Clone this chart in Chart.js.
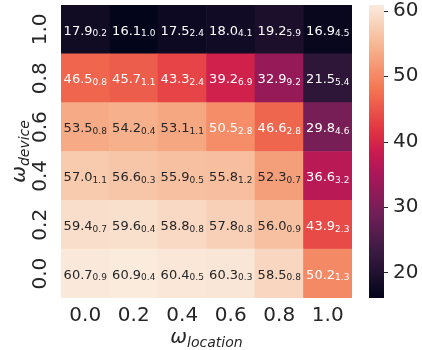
<!DOCTYPE html>
<html><head><meta charset="utf-8">
<script src="https://cdn.jsdelivr.net/npm/chart.js@4.4.1/dist/chart.umd.min.js"></script>
<style>html,body{margin:0;padding:0;background:#fff;}</style>
</head><body>
<canvas id="c" width="422" height="350"></canvas>
<script>
// ---- data ----
const xLabels = ['0.0', '0.2', '0.4', '0.6', '0.8', '1.0'];   // ω_location
const yLabels = ['0.0', '0.2', '0.4', '0.6', '0.8', '1.0'];   // ω_device (bottom -> top)
// rows from ω_device = 0.0 (bottom) to 1.0 (top)
const means = [
  [60.7, 60.9, 60.4, 60.3, 58.5, 50.2],
  [59.4, 59.6, 58.8, 57.8, 56.0, 43.9],
  [57.0, 56.6, 55.9, 55.8, 52.3, 36.6],
  [53.5, 54.2, 53.1, 50.5, 46.6, 29.8],
  [46.5, 45.7, 43.3, 39.2, 32.9, 21.5],
  [17.9, 16.1, 17.5, 18.0, 19.2, 16.9]
];
const stds = [
  [0.9, 0.4, 0.5, 0.3, 0.8, 1.3],
  [0.7, 0.4, 0.8, 0.8, 0.9, 2.3],
  [1.1, 0.3, 0.5, 1.2, 0.7, 3.2],
  [0.8, 0.4, 1.1, 2.8, 2.8, 4.6],
  [0.8, 1.1, 2.4, 6.9, 9.2, 5.4],
  [0.2, 1.0, 2.4, 4.1, 5.9, 4.5]
];
const cbTicks = [20, 30, 40, 50, 60];

const allVals = means.flat();
const vmin = Math.min(...allVals);
const vmax = Math.max(...allVals);

// ---- rocket colormap (approximation) ----
const rocketStops = [
  [0.000, [3, 5, 26]],
  [0.143, [53, 25, 62]],
  [0.286, [112, 31, 87]],
  [0.429, [173, 23, 89]],
  [0.500, [203, 27, 79]],
  [0.571, [225, 51, 66]],
  [0.714, [243, 118, 81]],
  [0.857, [246, 180, 143]],
  [1.000, [250, 235, 221]]
];
function rocket(t) {
  t = Math.max(0, Math.min(1, t));
  for (let i = 1; i < rocketStops.length; i++) {
    const [t1, c1] = rocketStops[i];
    const [t0, c0] = rocketStops[i - 1];
    if (t <= t1) {
      const f = (t - t0) / (t1 - t0);
      return c0.map((v, k) => Math.round(v + (c1[k] - v) * f));
    }
  }
  return rocketStops[rocketStops.length - 1][1];
}
const rgbStr = c => `rgb(${c[0]},${c[1]},${c[2]})`;
const colorFor = v => rocket((v - vmin) / (vmax - vmin));
function lum(c) {
  const l = c.map(v => { v /= 255; return v <= 0.03928 ? v / 12.92 : Math.pow((v + 0.055) / 1.055, 2.4); });
  return 0.2126 * l[0] + 0.7152 * l[1] + 0.0722 * l[2];
}

const TXT = '#262626';
const FONT = '"DejaVu Sans", sans-serif';
const ANN = 13, ANNSUB = 9;

const heatPlugin = {
  id: 'heat',
  afterDraw(chart) {
    const ctx = chart.ctx;
    const xs = chart.scales.x, ys = chart.scales.y, cb = chart.scales.cb;
    const area = chart.chartArea;
    ctx.save();
    // cell annotations
    for (let r = 0; r < means.length; r++) {
      for (let c = 0; c < xLabels.length; c++) {
        const cx = xs.getPixelForValue(c);
        const cy = ys.getPixelForValue(r + 0.5);
        const m = means[r][c].toFixed(1), s = stds[r][c].toFixed(1);
        const col = colorFor(means[r][c]);
        ctx.fillStyle = lum(col) > 0.408 ? TXT : '#ffffff';
        ctx.textBaseline = 'alphabetic';
        ctx.textAlign = 'left';
        ctx.font = ANN + 'px ' + FONT;
        const w1 = ctx.measureText(m).width;
        ctx.font = ANNSUB + 'px ' + FONT;
        const w2 = ctx.measureText(s).width;
        const x0 = cx - (w1 + w2) / 2;
        const by = cy + 5.2;
        ctx.font = ANN + 'px ' + FONT;
        ctx.fillText(m, x0, by);
        ctx.font = ANNSUB + 'px ' + FONT;
        ctx.fillText(s, x0 + w1, by + 1.6);
      }
    }
    // colorbar
    const top = cb.getPixelForValue(vmax), bot = cb.getPixelForValue(vmin);
    const bx = area.right + 17, bw = 15;
    const g = ctx.createLinearGradient(0, bot, 0, top);
    for (let i = 0; i <= 64; i++) g.addColorStop(i / 64, rgbStr(rocket(i / 64)));
    ctx.fillStyle = g;
    ctx.fillRect(bx, top, bw, bot - top);
    ctx.strokeStyle = TXT;
    ctx.lineWidth = 1;
    cbTicks.forEach(v => {
      const y = Math.round(cb.getPixelForValue(v)) + 0.5;
      ctx.beginPath();
      ctx.moveTo(bx + bw, y);
      ctx.lineTo(bx + bw + 4, y);
      ctx.stroke();
    });
    // axis titles (math style: ω with italic subscript)
    ctx.fillStyle = TXT;
    function mathLabel(base, sub, cx, baseY) {
      ctx.font = 'italic 20px ' + FONT;
      const w1 = ctx.measureText(base).width;
      ctx.font = 'italic 14px ' + FONT;
      const w2 = ctx.measureText(sub).width;
      const x0 = cx - (w1 + w2) / 2;
      ctx.textAlign = 'left';
      ctx.textBaseline = 'alphabetic';
      ctx.font = 'italic 20px ' + FONT;
      ctx.fillText(base, x0, baseY);
      ctx.font = 'italic 14px ' + FONT;
      ctx.fillText(sub, x0 + w1, baseY + 4);
    }
    mathLabel('ω', 'location', (area.left + area.right) / 2, 343);
    ctx.save();
    ctx.translate(25, (area.top + area.bottom) / 2);
    ctx.rotate(-Math.PI / 2);
    mathLabel('ω', 'device', 0, 0);
    ctx.restore();
    ctx.restore();
  }
};

const datasets = means.map((row, r) => ({
  label: yLabels[r],
  data: row.map(() => 1),
  backgroundColor: row.map(v => rgbStr(colorFor(v))),
  borderWidth: 0,
  barPercentage: 1,
  categoryPercentage: 1
}));

const zeroPad = s => { s.paddingTop = 0; s.paddingBottom = 0; s.paddingLeft = 0; s.paddingRight = 0; };

new Chart(document.getElementById('c'), {
  type: 'bar',
  data: { labels: xLabels, datasets },
  plugins: [heatPlugin],
  options: {
    responsive: false,
    animation: false,
    devicePixelRatio: 1,
    layout: { padding: { top: 5, left: 0, right: 0, bottom: 0 } },
    plugins: { legend: { display: false }, tooltip: { enabled: false } },
    scales: {
      x: {
        type: 'category',
        stacked: true,
        grid: { display: false, drawTicks: false },
        border: { display: false },
        ticks: { color: TXT, font: { family: FONT, size: 20 }, padding: 6, maxRotation: 0 },
        afterFit: s => { s.height = 52; zeroPad(s); }
      },
      y: {
        type: 'linear',
        stacked: true,
        min: 0, max: 6,
        grid: { display: false, drawTicks: false },
        border: { display: false },
        afterBuildTicks: s => { s.ticks = yLabels.map((_, i) => ({ value: i + 0.5 })); },
        ticks: {
          color: TXT, font: { family: FONT, size: 20 }, padding: 4,
          minRotation: 90, maxRotation: 90, crossAlign: 'center',
          callback: v => yLabels[Math.floor(v)]
        },
        afterFit: s => { s.width = 61; zeroPad(s); }
      },
      cb: {
        type: 'linear',
        position: 'right',
        min: vmin, max: vmax,
        grid: { display: false, drawTicks: false },
        border: { display: false },
        afterBuildTicks: s => { s.ticks = cbTicks.map(v => ({ value: v })); },
        ticks: { color: TXT, font: { family: FONT, size: 20 }, padding: 41 },
        afterFit: s => { s.width = 70; zeroPad(s); }
      }
    }
  }
});
</script>
</body></html>
